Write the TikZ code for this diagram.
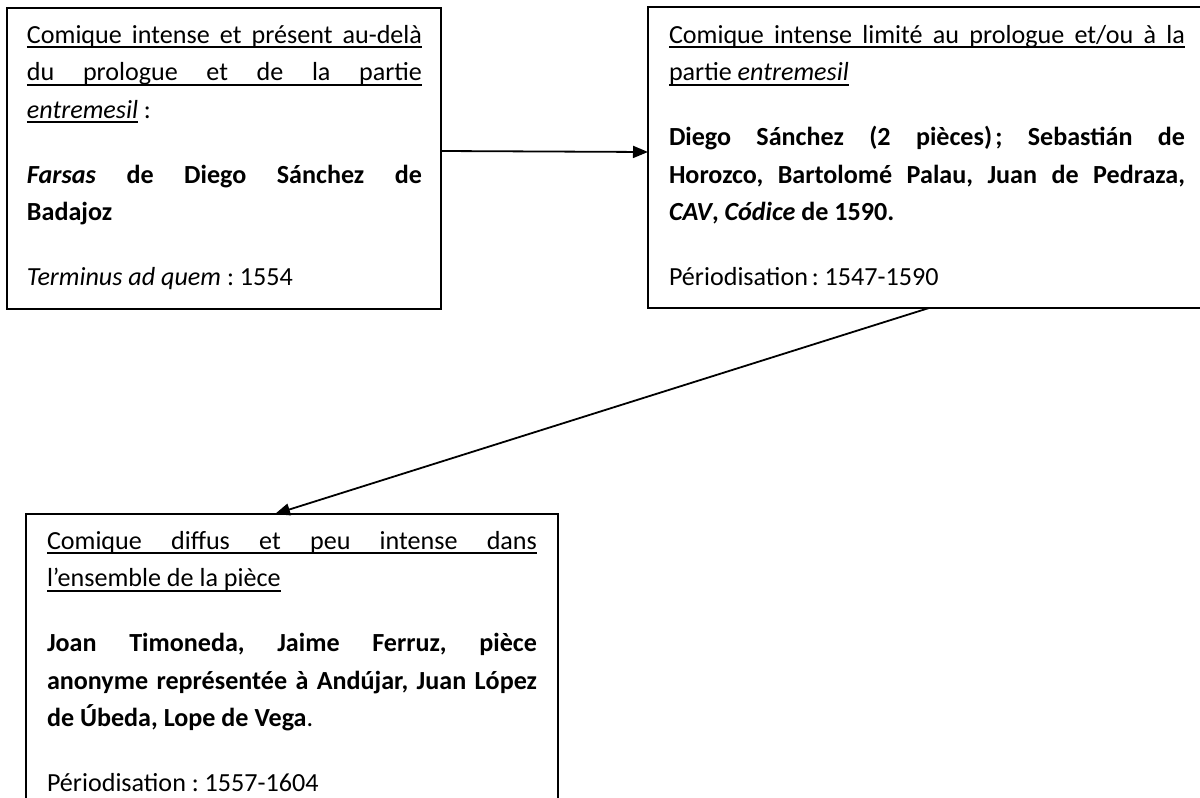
\documentclass[tikz,border=0pt]{standalone}
\usepackage{fontspec}
\setmainfont{Carlito}
\usetikzlibrary{arrows.meta}
\newsavebox\ulbox
\newcommand\ulx[1]{\sbox\ulbox{#1}\rlap{\rule[-5pt]{\wd\ulbox}{1.6pt}}\usebox\ulbox}
% justified line: equal stretchable spaces
\newcommand\jl[2]{\hbox to #1{\spaceskip=.25em plus 1fil\xspaceskip=\spaceskip #2}}
\newcommand\nl[1]{\hbox{#1}}
\newcommand\pgap{\vskip 27.5pt}
\begin{document}
\begin{tikzpicture}[x=1pt,y=-1pt,
  box/.style={draw=black, line width=1.6pt, inner sep=0pt, outer sep=0pt},
  txt/.style={anchor=base west, inner sep=0pt, outer sep=0pt,
    font=\fontsize{26.1pt}{37.5pt}\selectfont\frenchspacing},
  conn/.style={line width=1.8pt, -{Triangle[length=15pt,width=12pt]}}]
\useasboundingbox (0,0) rectangle (1200,798);
\clip (0,0) rectangle (1200,798);
\fill[white] (0,0) rectangle (1200,798);

% boxes
\node[box, minimum width=434pt, minimum height=301pt] (b1) at (224,158.5) {};
\node[box, minimum width=562pt, minimum height=301pt] (b2) at (929,157.5) {};
\node[box, minimum width=532pt, minimum height=316pt] (b3) at (292,672) {};

% texts
\node[txt] (t1) at (27,43) {\vtop{\hsize=395pt\baselineskip=37.5pt\lineskiplimit=-100pt
\nl{\ulx{\jl{395pt}{Comique intense et présent au-delà}}}
\nl{\ulx{\jl{395pt}{du prologue et de la partie}}}
\nl{\ulx{\textit{entremesil}} :}
\pgap
\jl{395pt}{\bfseries\spaceskip=.25em plus 1fil \textit{Farsas} de Diego Sánchez de}
\nl{\textbf{Badajoz}}
\pgap
\nl{\textit{Terminus ad quem} : 1554}}};

\node[txt] (t2) at (669,43) {\vtop{\hsize=516pt\baselineskip=37.5pt\lineskiplimit=-100pt
\nl{\ulx{\jl{516pt}{Comique intense limité au prologue et/ou à la}}}
\nl{\ulx{partie \textit{entremesil}}}
\pgap
\jl{516pt}{\bfseries\spaceskip=.25em plus 1fil Diego Sánchez (2 pièces)\kern.12em; Sebastián de}
\jl{516pt}{\bfseries\spaceskip=.25em plus 1fil Horozco, Bartolomé Palau, Juan de Pedraza,}
\nl{\textbf{\textit{CAV}, \textit{Códice} de 1590.}}
\pgap
\nl{Périodisation\kern.15em: 1547-1590}}};

\node[txt] (t3) at (47,549) {\vtop{\hsize=490pt\baselineskip=37.5pt\lineskiplimit=-100pt
\nl{\ulx{\jl{490pt}{Comique diffus et peu intense dans}}}
\nl{\ulx{l’ensemble de la pièce}}
\pgap
\jl{490pt}{\bfseries\spaceskip=.25em plus 1fil Joan Timoneda, Jaime Ferruz, pièce}
\jl{490pt}{\bfseries\spaceskip=.25em plus 1fil anonyme représentée à Andújar, Juan López}
\nl{\textbf{de Úbeda, Lope de Vega}.}
\pgap
\nl{Périodisation : 1557-1604}}};

% connectors
\draw[conn] ([yshift=7.5pt]b1.east) -- ([yshift=5.5pt]b2.west);
\draw[conn] (b2.south) -- ([xshift=-17pt]b3.north);
\end{tikzpicture}
\end{document}
